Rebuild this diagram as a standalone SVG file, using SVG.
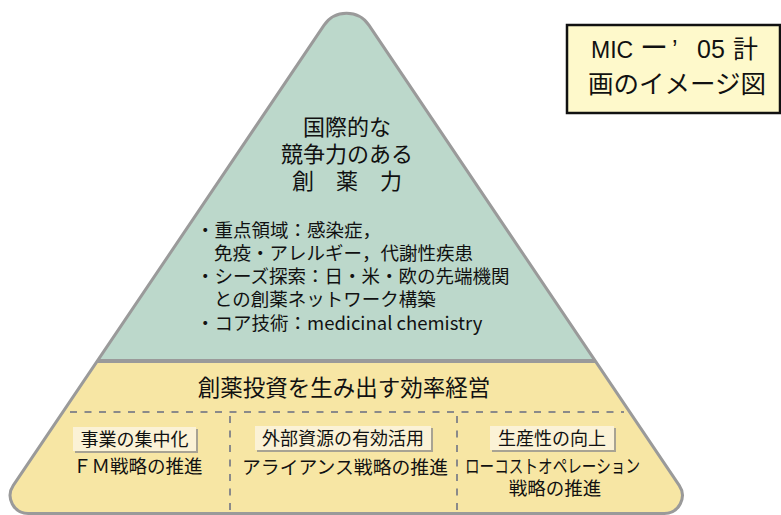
<svg xmlns="http://www.w3.org/2000/svg" width="781" height="515" viewBox="0 0 781 515">
<style>
text{font-family:"Noto Sans CJK JP","Noto Sans CJK SC",sans-serif;fill:#111}
.h{font-size:22px;text-anchor:middle}
.b{font-size:18.5px}
.l{font-size:18px;text-anchor:middle}
.s{font-size:18.5px}
.lb{fill:#fbf2d6}
.sh{fill:#a8a393}
.dash{stroke:#8a8a8a;stroke-width:2;stroke-dasharray:7 7.5;fill:none}
</style>
<defs>
<clipPath id="tri"><path d="M 324.1 25.2 A 27 27 0 0 1 368.9 25.2 L 679.2 485.4 A 18 18 0 0 1 664.3 513.5 L 28.2 513.5 A 18 18 0 0 1 13.3 485.4 Z"/></clipPath>
</defs>
<g id="pyramid">
<g clip-path="url(#tri)">
<rect x="0" y="0" width="781" height="361" fill="#bcd8cb"/>
<rect x="0" y="361" width="781" height="160" fill="#f7e6a4"/>
</g>
<path d="M 324.1 25.2 A 27 27 0 0 1 368.9 25.2 L 679.2 485.4 A 18 18 0 0 1 664.3 513.5 L 28.2 513.5 A 18 18 0 0 1 13.3 485.4 Z" fill="none" stroke="#9a9a9a" stroke-width="3"/>
<line x1="97" y1="361" x2="596" y2="361" stroke="#9a9a9a" stroke-width="4"/>
</g>
<g id="connectors">
<line class="dash" x1="70" y1="412" x2="624" y2="412"/>
<line class="dash" x1="230" y1="416" x2="230" y2="515"/>
<line class="dash" x1="457" y1="416" x2="457" y2="515"/>
</g>
<g id="top">
<text class="h"><tspan x="347" y="135">国際的な</tspan><tspan x="347" y="162">競争力のある</tspan><tspan x="347" y="189">創　薬　力</tspan></text>
<text class="b"><tspan x="196" y="237">・重点領域：感染症，</tspan><tspan x="214" y="260">免疫・アレルギー，代謝性疾患</tspan><tspan x="196" y="283">・シーズ探索：日・米・欧の先端機関</tspan><tspan x="214" y="306">との創薬ネットワーク構築</tspan><tspan x="196" y="330">・コア技術：medicinal chemistry</tspan></text>
</g>
<g id="base">
<text x="344" y="396" style="font-size:22.5px;text-anchor:middle">創薬投資を生み出す効率経営</text>
</g>
<g id="col1">
<rect class="sh" x="75" y="429" width="123" height="24"/>
<rect class="lb" x="73" y="427" width="123" height="24"/>
<text class="l" x="134.5" y="446">事業の集中化</text>
<text class="s" x="73" y="473">ＦＭ戦略の推進</text>
</g>
<g id="col2">
<rect class="sh" x="257" y="428" width="176" height="24"/>
<rect class="lb" x="255" y="426" width="176" height="24"/>
<text class="l" x="343" y="445">外部資源の有効活用</text>
<text class="s" x="242" y="474" textLength="206" lengthAdjust="spacingAndGlyphs">アライアンス戦略の推進</text>
</g>
<g id="col3">
<rect class="sh" x="492" y="428" width="124" height="24"/>
<rect class="lb" x="490" y="426" width="124" height="24"/>
<text class="l" x="552" y="445">生産性の向上</text>
<text class="s"><tspan x="465" y="473" textLength="175" lengthAdjust="spacingAndGlyphs">ローコストオペレーション</tspan><tspan x="555" y="495" style="text-anchor:middle">戦略の推進</tspan></text>
</g>
<g id="title">
<rect x="567" y="25" width="213" height="88" fill="#fef9cb" stroke="#111" stroke-width="2.5"/>
<text y="58" style="font-family:'Liberation Sans','Noto Sans CJK JP',sans-serif;font-size:25px"><tspan x="591" style="font-size:23px">MIC</tspan><tspan x="640" style="font-size:28px">ー</tspan><tspan x="672">’</tspan><tspan x="697">05</tspan><tspan x="733">計</tspan></text>
<text x="677" y="93" style="font-size:25.5px;text-anchor:middle">画のイメージ図</text>
</g>
</svg>
